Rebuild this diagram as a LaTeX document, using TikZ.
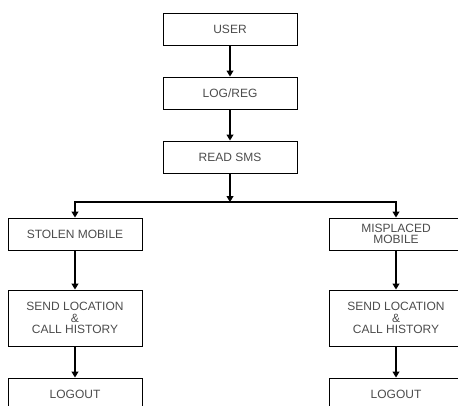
\documentclass[tikz,border=0pt]{standalone}
\usepackage{fontspec}
\setmainfont{Liberation Sans}
\usetikzlibrary{arrows.meta, positioning, calc}
\tikzset{
    flowbox/.style={draw, line width=1pt, minimum width=134pt, minimum height=32pt,
      align=center, font=\fontsize{12}{11.5}\selectfont, text=black!70, inner sep=2pt},
    flow/.style={-{Triangle[width=7pt,length=6pt]}, line width=1.1pt},
}

\begin{document}
\begin{tikzpicture}[x=1pt, y=-1pt, node distance=31pt]
    \useasboundingbox (0,0) rectangle (458,405);
    \clip (0,0) rectangle (458,405);

    \node[flowbox] (user) at (230,29) {USER};
    \node[flowbox, below=of user] (logreg) {LOG/REG};
    \node[flowbox, below=of logreg] (readsms) {READ SMS};
    \coordinate (split) at (230,202);

    \node[flowbox] (stolen) at (75,234) {STOLEN MOBILE};
    \node[flowbox, minimum height=56pt, below=39pt of stolen] (sendl) {SEND LOCATION\\\&\\CALL HISTORY};
    \node[flowbox, below=of sendl] (logoutl) {LOGOUT};

    \node[flowbox] (misplaced) at (396,234) {MISPLACED\\MOBILE};
    \node[flowbox, minimum height=56pt, below=39pt of misplaced] (sendr) {SEND LOCATION\\\&\\CALL HISTORY};
    \node[flowbox, below=of sendr] (logoutr) {LOGOUT};

    \draw[flow] (user) -- (logreg);
    \draw[flow] (logreg) -- (readsms);
    \draw[flow] (readsms) -- (split);
    \draw[flow] (split) -| (stolen.north);
    \draw[flow] (split) -| (misplaced.north);
    \draw[flow] (stolen) -- (sendl);
    \draw[flow] (sendl) -- (logoutl);
    \draw[flow] (misplaced) -- (sendr);
    \draw[flow] (sendr) -- (logoutr);
\end{tikzpicture}
\end{document}
